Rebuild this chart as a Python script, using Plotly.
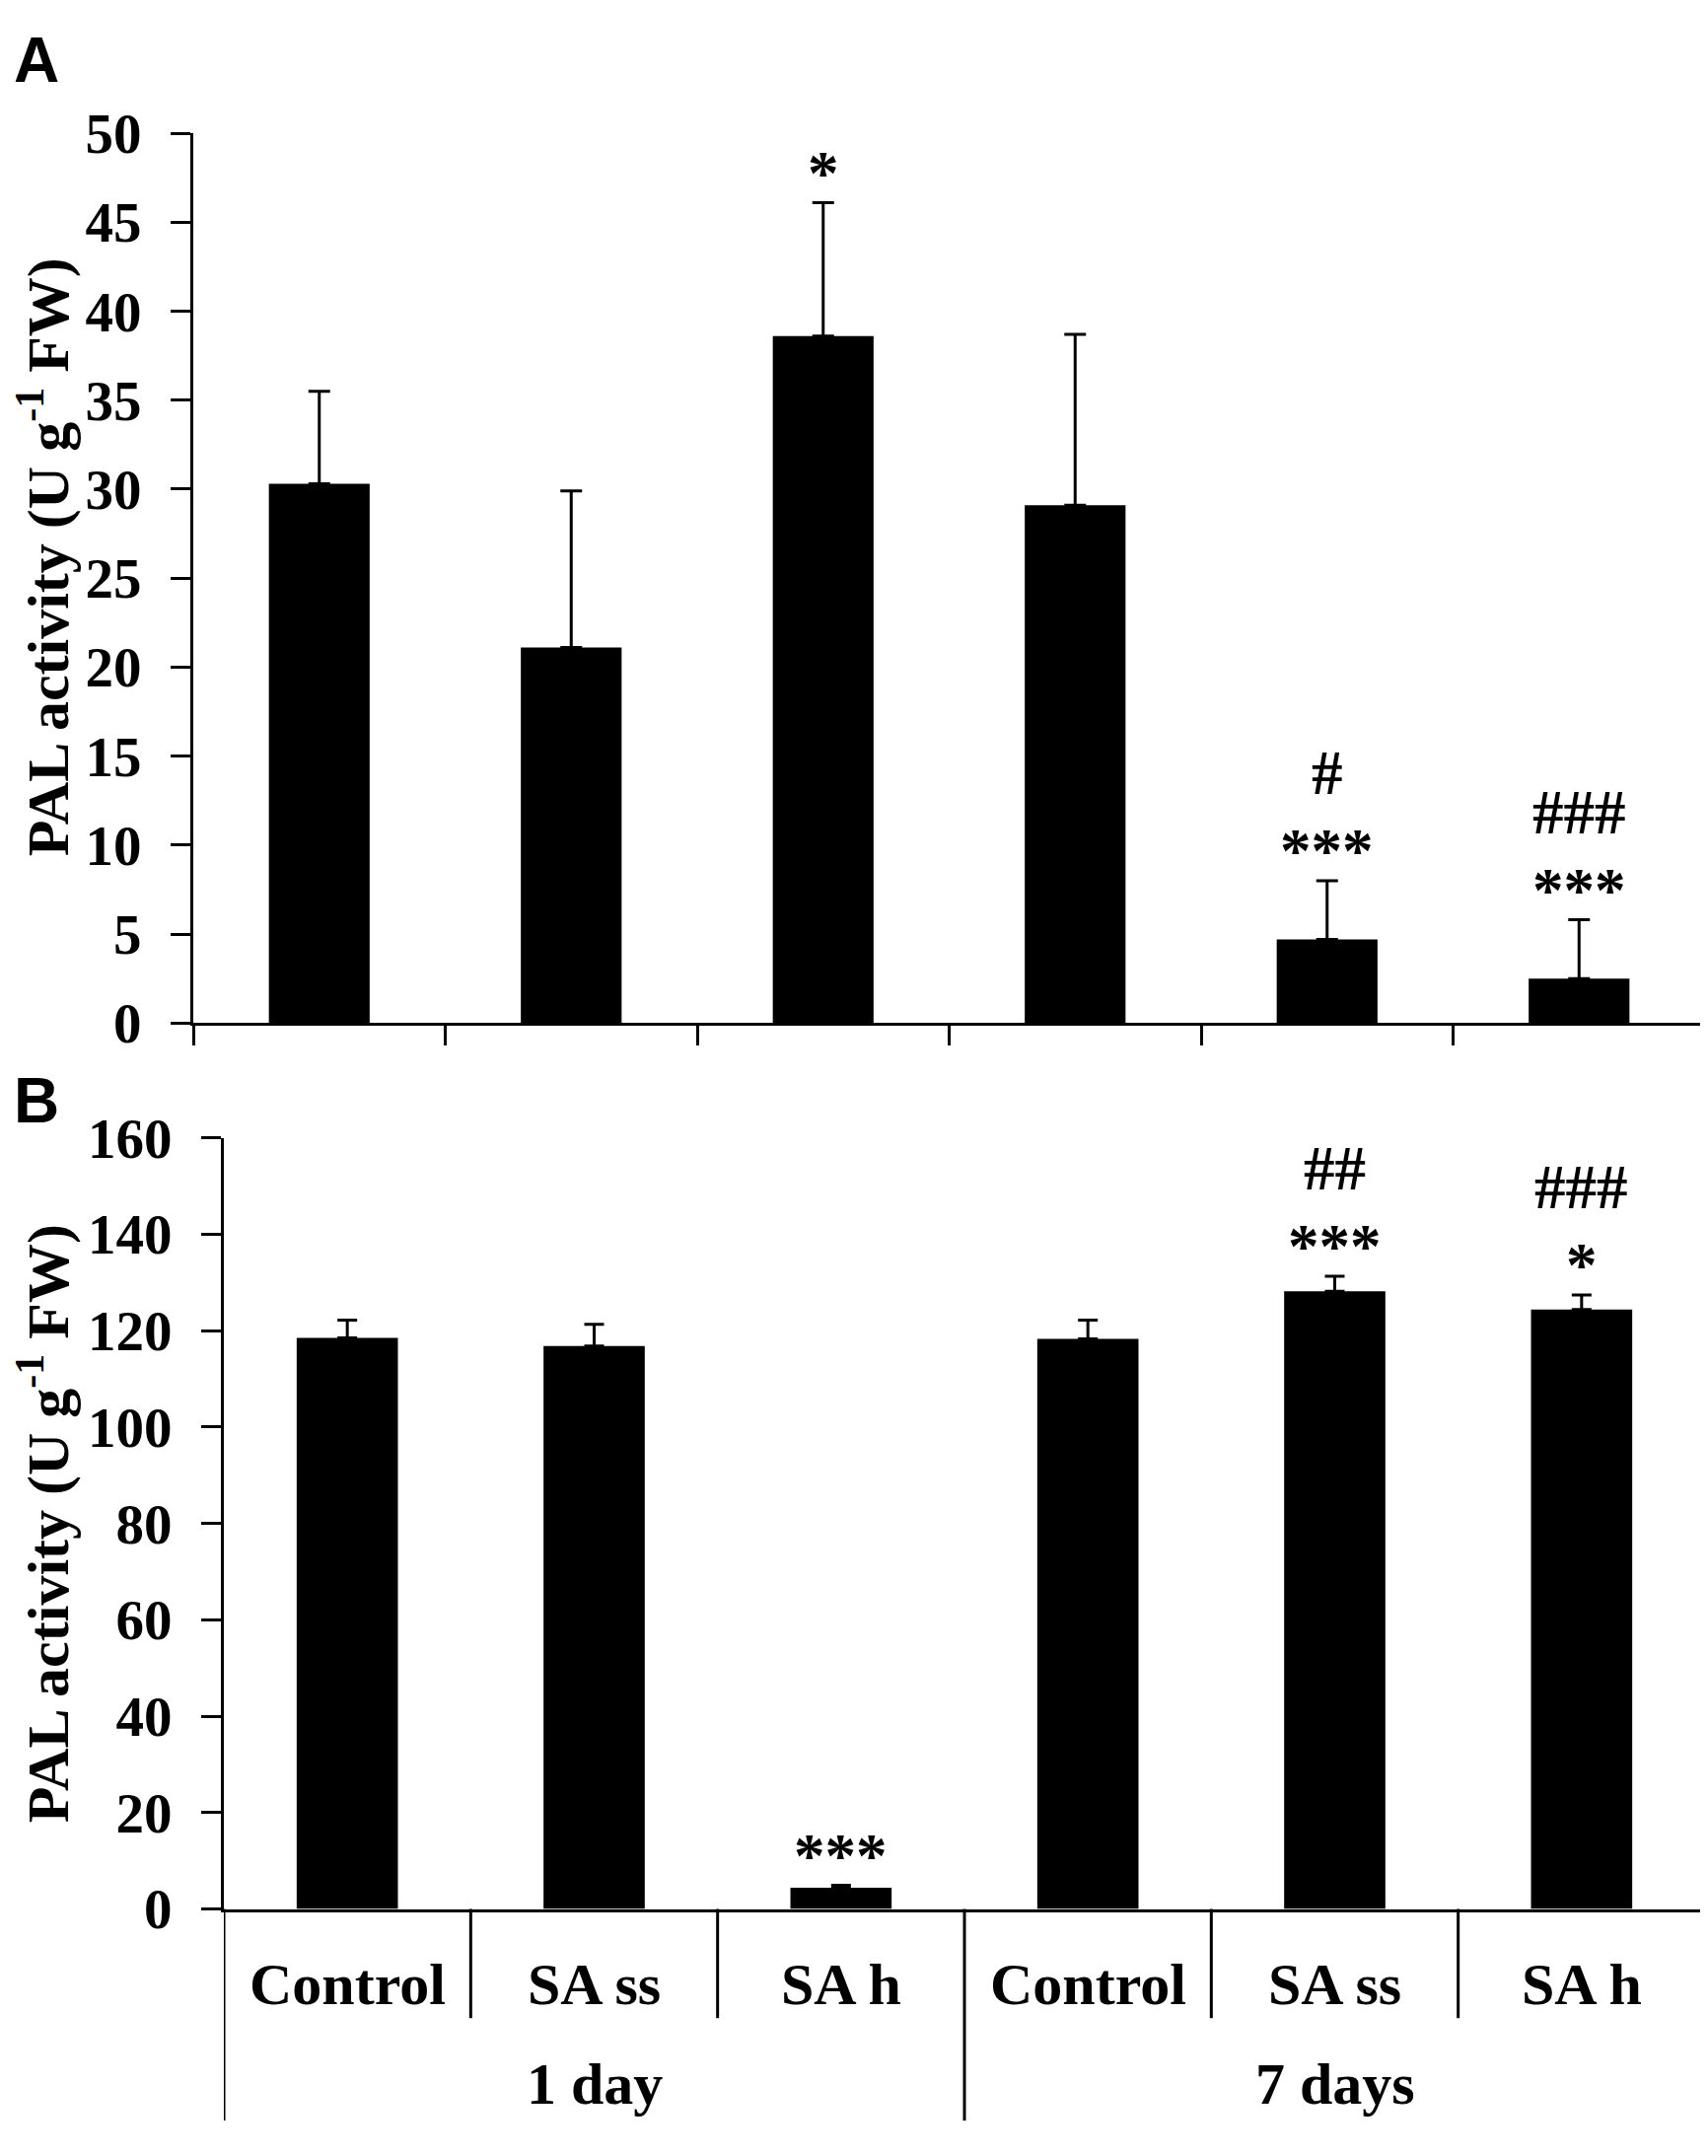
import plotly.graph_objects as go

# Data
treatments = ["Control", "SA ss", "SA h", "Control", "SA ss", "SA h"]
days = ["1 day", "7 days"]
pal_a = [30.3, 21.1, 38.6, 29.1, 4.7, 2.5]
err_a = [5.2, 8.8, 7.5, 9.6, 3.3, 3.3]
stars_a = ["", "", "*", "", "***", "***"]
hash_a = ["", "", "", "", "#", "###"]
pal_b = [118.5, 116.8, 4.4, 118.3, 128.2, 124.4]
err_b = [3.7, 4.5, 0.5, 3.9, 3.1, 3.0]
stars_b = ["", "", "***", "", "***", "*"]
hash_b = ["", "", "", "", "##", "###"]
yticks_a = [0, 5, 10, 15, 20, 25, 30, 35, 40, 45, 50]
yticks_b = [0, 20, 40, 60, 80, 100, 120, 140, 160]

# the page adds an 8 px body margin, so the figure is a bit smaller than the window
OFF = 8
W, H = 1732 - OFF, 2186 - OFF
serif = "Liberation Serif"
sans = "Liberation Sans"
idx = list(range(len(treatments)))


def px_x(p):
    return (p - OFF) / W


def px_y(p):
    return (H - (p - OFF)) / H


fig = go.Figure()

fig.add_trace(go.Bar(
    x=idx, y=pal_a, xaxis="x", yaxis="y", width=0.4,
    marker=dict(color="black", line=dict(width=0)),
    error_y=dict(type="data", symmetric=False, array=err_a, arrayminus=[0] * 6,
                 color="black", thickness=3, width=11),
    showlegend=False,
))
fig.add_trace(go.Bar(
    x=idx, y=pal_b, xaxis="x2", yaxis="y2", width=0.41,
    marker=dict(color="black", line=dict(width=0)),
    error_y=dict(type="data", symmetric=False, array=err_b, arrayminus=[0] * 6,
                 color="black", thickness=3, width=10),
    showlegend=False,
))

ya_dom = [px_y(1036), px_y(107)]
yb_dom = [px_y(1961), px_y(1156)]
axis_common = dict(showline=True, linewidth=3, linecolor="black", showgrid=False,
                   zeroline=False, ticks="outside", tickwidth=3, tickcolor="black")
tickfont = dict(family=serif, size=57, color="black", weight="bold")

fig.update_layout(
    width=W, height=H, margin=dict(l=0, r=0, t=0, b=0),
    paper_bgcolor="white", plot_bgcolor="white",
    xaxis=dict(domain=[px_x(196), px_x(1729)], range=[-0.5, 5.5], anchor="y",
               tickmode="array", tickvals=[i - 0.5 for i in range(7)],
               showticklabels=False, ticklen=20, **axis_common),
    yaxis=dict(domain=ya_dom, range=[0, 50], anchor="x",
               tickmode="array", tickvals=yticks_a, ticklen=20,
               ticklabelstandoff=18, tickfont=tickfont, **axis_common),
    xaxis2=dict(domain=[px_x(227), px_x(1729)], range=[-0.5, 5.5], anchor="y2",
                showline=True, linewidth=3, linecolor="black", showgrid=False,
                zeroline=False, showticklabels=False, ticks=""),
    yaxis2=dict(domain=yb_dom, range=[0, 160], anchor="x2",
                tickmode="array", tickvals=yticks_b, ticklen=20,
                ticklabelstandoff=18, tickfont=tickfont, **axis_common),
)

ann = []
# panel letters
letterfont = dict(family=sans, size=64, color="black", weight="bold")
ann.append(dict(text="A", x=px_x(12), y=1.0, xref="paper", yref="paper", yshift=16,
                xanchor="left", yanchor="top", showarrow=False, font=letterfont))
ann.append(dict(text="B", x=px_x(12), y=px_y(1078), xref="paper", yref="paper",
                xanchor="left", yanchor="top", showarrow=False, font=letterfont))
# y titles
for yc in [px_y(550), px_y(1559)]:
    ann.append(dict(text="PAL activity (U g<sup>-1</sup> FW)", x=px_x(44), y=yc,
                    xref="paper", yref="paper", xanchor="center", yanchor="middle",
                    textangle=-90, showarrow=False,
                    font=dict(family=serif, size=60, color="black", weight="bold")))
# significance marks: stars just above the error bar, hashes one line higher
sigfont = dict(family=serif, size=63, color="black", weight="bold")
for xr, yr, vals, errs, stars, hashes in [("x", "y", pal_a, err_a, stars_a, hash_a),
                                          ("x2", "y2", pal_b, err_b, stars_b, hash_b)]:
    for i in idx:
        top = vals[i] + errs[i]
        if stars[i]:
            ann.append(dict(text=stars[i], x=i, y=top, xref=xr, yref=yr,
                            xanchor="center", yanchor="bottom", showarrow=False,
                            yshift=-7, font=sigfont))
        if hashes[i]:
            ann.append(dict(text=hashes[i], x=i, y=top, xref=xr, yref=yr,
                            xanchor="center", yanchor="bottom", showarrow=False,
                            yshift=72, font=sigfont))
# category labels under panel B
lblfont = dict(family=serif, size=60, color="black", weight="bold")
for i in idx:
    ann.append(dict(text=treatments[i], x=i, y=px_y(2040), xref="x2", yref="paper",
                    xanchor="center", yanchor="middle", showarrow=False, font=lblfont))
for g, d in enumerate(days):
    ann.append(dict(text=d, x=g * 3 + 1, y=px_y(2144), xref="x2", yref="paper",
                    xanchor="center", yanchor="middle", showarrow=False, font=lblfont))
fig.update_layout(annotations=ann)

# dividers for the two-level category axis of panel B
shapes = []
for b in range(7):
    xb = b - 0.5
    bottom = px_y(2182) if b % 3 == 0 else px_y(2075)
    shapes.append(dict(type="line", xref="x2", yref="paper", x0=xb, x1=xb,
                       y0=yb_dom[0], y1=bottom, line=dict(color="black", width=3)))
fig.update_layout(shapes=shapes)

fig.write_html("out.html")
